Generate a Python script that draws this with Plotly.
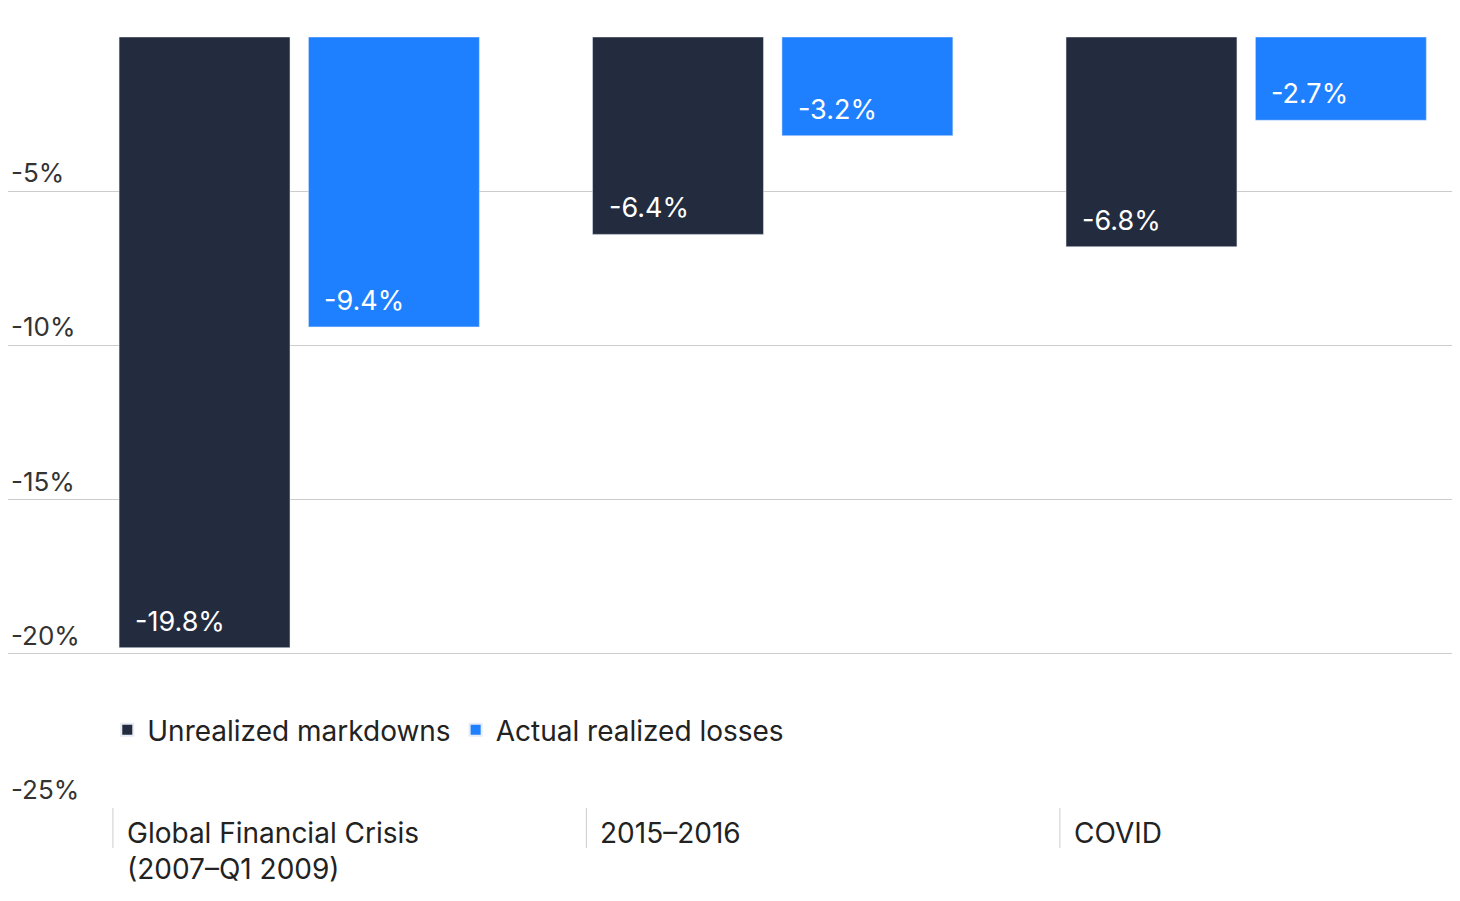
import plotly.graph_objects as go

categories = ["Global Financial Crisis<br>(2007–Q1 2009)", "2015–2016", "COVID"]
unrealized = [-19.8, -6.4, -6.8]
realized = [-9.4, -3.2, -2.7]
tick_vals = [0, -5, -10, -15, -20, -25]
tick_text = ["0%", "-5%", "-10%", "-15%", "-20%", "-25%"]

DARK = "#232B3E"
BLUE = "#1F80FF"
FONT = "Inter"
xs = list(range(len(categories)))

fig = go.Figure()
fig.add_trace(go.Bar(x=xs, y=unrealized, name="Unrealized markdowns", marker_color=DARK,
                     width=0.361, offset=-0.38, hoverinfo="skip"))
fig.add_trace(go.Bar(x=xs, y=realized, name="Actual realized losses", marker_color=BLUE,
                     width=0.361, offset=0.02, hoverinfo="skip"))

for i in xs:
    for off, v in ((-0.38, unrealized[i]), (0.02, realized[i])):
        fig.add_annotation(x=i + off, y=v, text=f"{v:.1f}%", showarrow=False,
                           xanchor="left", yanchor="bottom", xshift=14, yshift=8,
                           font=dict(family=FONT, size=27, color="white"))
    fig.add_shape(type="line", xref="x", yref="paper", x0=i - 0.393, x1=i - 0.393,
                  y0=0, y1=-0.052, line=dict(color="#cccccc", width=1))
    fig.add_annotation(x=i - 0.393, y=0, xref="x", yref="paper", text=categories[i],
                       showarrow=False, xanchor="left", yanchor="top", align="left",
                       xshift=12, yshift=-6,
                       font=dict(family=FONT, size=28, color="#222222"))

fig.update_layout(
    width=1460, height=901,
    margin=dict(l=0, r=0, t=29, b=101),
    plot_bgcolor="white", paper_bgcolor="white",
    font=dict(family=FONT, size=26, color="#333333"),
    showlegend=True,
    legend=dict(orientation="h", x=0.068, y=0.101, xanchor="left", yanchor="middle",
                font=dict(family=FONT, size=28, color="#222222"), bgcolor="rgba(0,0,0,0)",
                itemsizing="constant"),
    xaxis=dict(range=[-0.6146, 2.469], showticklabels=False, showgrid=False,
               zeroline=False, showline=False),
    yaxis=dict(range=[-25, 0], tickvals=tick_vals, ticktext=tick_text,
               ticklabelposition="inside top", showgrid=True, gridcolor="#cccccc",
               gridwidth=1, zeroline=False, showline=False,
               tickfont=dict(family=FONT, size=26, color="#333333")),
)
fig.write_html("out.html")
